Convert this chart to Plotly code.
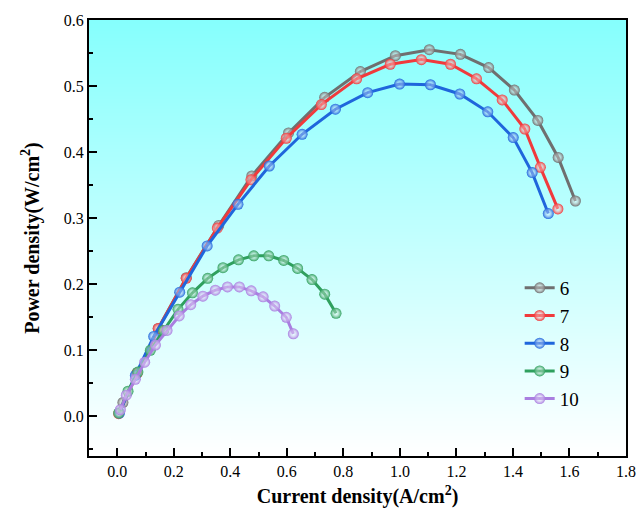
import base64, struct, zlib
import plotly.graph_objects as go

# ---- data ----
x6 = [0.020, 0.070, 0.145, 0.244, 0.359, 0.476, 0.606, 0.734, 0.860, 0.984, 1.104, 1.214, 1.314, 1.405, 1.488, 1.560, 1.621]
y6 = [0.021, 0.066, 0.133, 0.210, 0.289, 0.364, 0.429, 0.483, 0.522, 0.546, 0.555, 0.548, 0.528, 0.494, 0.448, 0.392, 0.326]

x7 = [0.005, 0.070, 0.145, 0.244, 0.354, 0.473, 0.598, 0.722, 0.847, 0.966, 1.076, 1.179, 1.271, 1.362, 1.442, 1.497, 1.559]
y7 = [0.004, 0.065, 0.133, 0.209, 0.285, 0.358, 0.421, 0.472, 0.511, 0.533, 0.540, 0.533, 0.511, 0.479, 0.435, 0.377, 0.314]

x8 = [0.008, 0.064, 0.129, 0.221, 0.318, 0.427, 0.538, 0.654, 0.772, 0.886, 0.999, 1.108, 1.212, 1.311, 1.401, 1.468, 1.525]
y8 = [0.005, 0.062, 0.121, 0.188, 0.258, 0.321, 0.379, 0.427, 0.465, 0.490, 0.503, 0.502, 0.488, 0.461, 0.422, 0.369, 0.307]

x9 = [0.005, 0.038, 0.073, 0.117, 0.164, 0.215, 0.266, 0.320, 0.374, 0.429, 0.483, 0.536, 0.589, 0.638, 0.689, 0.734, 0.774]
y9 = [0.005, 0.038, 0.067, 0.100, 0.130, 0.162, 0.187, 0.209, 0.225, 0.237, 0.243, 0.243, 0.236, 0.224, 0.207, 0.185, 0.156]

x10 = [0.011, 0.032, 0.064, 0.097, 0.135, 0.176, 0.219, 0.260, 0.303, 0.347, 0.390, 0.432, 0.474, 0.516, 0.557, 0.598, 0.623]
y10 = [0.010, 0.032, 0.056, 0.082, 0.108, 0.130, 0.152, 0.169, 0.182, 0.191, 0.196, 0.196, 0.190, 0.181, 0.167, 0.150, 0.125]

names = ["6", "7", "8", "9", "10"]
colors = ["#6f6f6f", "#f03a3c", "#1f66dc", "#2fa05e", "#a97ee0"]
series = [(x6, y6), (x7, y7), (x8, y8), (x9, y9), (x10, y10)]


# ---- vertical gradient background image (cyan top -> white bottom) ----
def gradient_png(h=256, top=(134, 255, 253), bottom=(255, 255, 255)):
    raw = b""
    for i in range(h):
        t = i / (h - 1)  # 0 at top
        c = [round(top[k] + (bottom[k] - top[k]) * t) for k in range(3)]
        raw += b"\x00" + bytes(c) * 2

    def chunk(tag, data):
        return struct.pack(">I", len(data)) + tag + data + struct.pack(">I", zlib.crc32(tag + data) & 0xffffffff)

    png = (b"\x89PNG\r\n\x1a\n"
           + chunk(b"IHDR", struct.pack(">IIBBBBB", 2, h, 8, 2, 0, 0, 0))
           + chunk(b"IDAT", zlib.compress(raw))
           + chunk(b"IEND", b""))
    return "data:image/png;base64," + base64.b64encode(png).decode()


fig = go.Figure()
for (xs, ys), n, c in zip(series, names, colors):
    fig.add_trace(go.Scatter(
        x=xs, y=ys, name=n, mode="lines+markers",
        line=dict(color=c, width=3),
        marker=dict(color=c, size=11, line=dict(width=0),
                    gradient=dict(type="radial", color="rgba(255,255,255,0.25)")),
    ))

font_family = "Liberation Serif, Times New Roman, serif"
axis_common = dict(
    showline=True, linecolor="black", linewidth=2, mirror=True,
    ticks="inside", ticklen=8, tickwidth=1.5, tickcolor="black",
    showgrid=False, zeroline=False, automargin=False,
    tickfont=dict(family=font_family, size=16, color="black"),
    tickformat=".1f",
)

fig.update_xaxes(
    range=[-0.1, 1.8], dtick=0.2, tick0=0,
    minor=dict(ticks="inside", ticklen=4, dtick=0.1, tick0=0, tickcolor="black", tickwidth=1.5),
    title=dict(text="<b>Current density(A/cm<sup>2</sup>)</b>",
               font=dict(family=font_family, size=20, color="black"), standoff=10),
    **axis_common,
)
fig.update_yaxes(
    range=[-0.06, 0.6], dtick=0.1, tick0=0,
    minor=dict(ticks="inside", ticklen=4, dtick=0.05, tick0=0, tickcolor="black", tickwidth=1.5),
    title=dict(text="<b>Power density(W/cm<sup>2</sup>)</b>",
               font=dict(family=font_family, size=20, color="black"), standoff=19),
    **axis_common,
)

fig.update_layout(
    width=636, height=517,
    margin=dict(l=89, r=10, t=20, b=61, autoexpand=False),
    paper_bgcolor="white", plot_bgcolor="white",
    images=[dict(source=gradient_png(), xref="paper", yref="paper",
                 x=0, y=1, sizex=1, sizey=1, sizing="stretch", layer="below",
                 xanchor="left", yanchor="top")],
    legend=dict(x=0.802, y=0.429, xanchor="left", yanchor="top",
                bgcolor="rgba(0,0,0,0)", borderwidth=0,
                font=dict(family=font_family, size=19, color="black"),
                tracegroupgap=0, itemwidth=30),
    showlegend=True,
)

# remove the default 8px body margin so the figure fills the window exactly
fig.write_html("out.html",
               config={"displayModeBar": False},
               post_script="document.body.style.margin='0';document.body.style.overflow='hidden';")
